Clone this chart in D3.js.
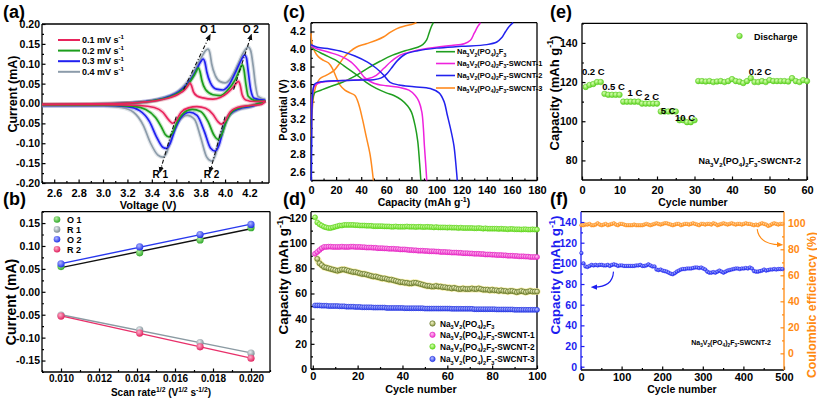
<!DOCTYPE html>
<html><head><meta charset="utf-8">
<script src="https://cdn.jsdelivr.net/npm/d3@7"></script>
<style>
body{margin:0;background:#fff;}
svg{display:block;}
</style></head><body><svg id="c" width="817" height="401"></svg>
<script>
// ---------------- DATA ----------------
// (a) cyclic voltammetry, [voltage, current] ; oxidation and reduction branches (both listed by increasing voltage)
const cvRates = ["0.1", "0.2", "0.3", "0.4"];
const cvOx01 = [[2.5,-0.002],[2.9,-0.001],[3.2,0.001],[3.35,0.004],[3.45,0.008],[3.55,0.015],[3.62,0.024],[3.67,0.035],[3.7,0.047],[3.71,0.052],[3.725,0.045],[3.74,0.03],[3.77,0.019],[3.82,0.014],[3.9,0.011],[3.96,0.015],[4.02,0.027],[4.07,0.042],[4.1,0.054],[4.11,0.056],[4.125,0.045],[4.14,0.022],[4.17,0.009],[4.24,0.005],[4.33,0.006]];
const cvRe01 = [[2.5,-0.003],[3.0,-0.003],[3.3,-0.005],[3.42,-0.01],[3.49,-0.022],[3.54,-0.042],[3.57,-0.05],[3.6,-0.042],[3.64,-0.022],[3.7,-0.011],[3.77,-0.008],[3.84,-0.012],[3.9,-0.027],[3.94,-0.045],[3.97,-0.052],[4.0,-0.044],[4.04,-0.022],[4.1,-0.01],[4.2,-0.005],[4.3,-0.002],[4.33,0.006]];
const cvOx02 = [[2.5,-0.003],[2.9,-0.002],[3.2,0.001],[3.35,0.004],[3.45,0.009],[3.55,0.017],[3.62,0.027],[3.68,0.042],[3.72,0.058],[3.75,0.073],[3.77,0.085],[3.78,0.09],[3.795,0.08],[3.81,0.058],[3.84,0.035],[3.9,0.022],[3.96,0.02],[4.02,0.033],[4.08,0.058],[4.12,0.085],[4.14,0.097],[4.155,0.085],[4.17,0.05],[4.19,0.018],[4.24,0.008],[4.33,0.006]];
const cvRe02 = [[2.5,-0.004],[3.0,-0.004],[3.25,-0.007],[3.35,-0.015],[3.43,-0.035],[3.48,-0.06],[3.51,-0.078],[3.54,-0.084],[3.57,-0.074],[3.61,-0.045],[3.66,-0.024],[3.73,-0.015],[3.8,-0.02],[3.86,-0.045],[3.91,-0.08],[3.94,-0.09],[3.97,-0.08],[4.01,-0.045],[4.06,-0.02],[4.13,-0.01],[4.22,-0.005],[4.33,0.006]];
const cvOx03 = [[2.5,-0.004],[2.9,-0.003],[3.2,0.001],[3.35,0.005],[3.45,0.01],[3.55,0.019],[3.62,0.03],[3.68,0.046],[3.73,0.066],[3.77,0.088],[3.8,0.105],[3.82,0.112],[3.835,0.104],[3.85,0.08],[3.88,0.052],[3.93,0.036],[3.98,0.034],[4.03,0.046],[4.08,0.075],[4.13,0.108],[4.16,0.122],[4.175,0.115],[4.19,0.08],[4.21,0.035],[4.24,0.013],[4.33,0.008]];
const cvRe03 = [[2.5,-0.005],[3.0,-0.005],[3.2,-0.008],[3.3,-0.018],[3.38,-0.045],[3.44,-0.085],[3.49,-0.11],[3.52,-0.113],[3.55,-0.1],[3.59,-0.065],[3.64,-0.035],[3.71,-0.022],[3.77,-0.03],[3.83,-0.07],[3.88,-0.112],[3.92,-0.12],[3.95,-0.105],[3.99,-0.06],[4.04,-0.027],[4.12,-0.013],[4.22,-0.007],[4.33,0.007]];
const cvOx04 = [[2.5,-0.005],[2.9,-0.004],[3.2,0.001],[3.35,0.005],[3.45,0.011],[3.55,0.02],[3.62,0.032],[3.68,0.05],[3.73,0.072],[3.77,0.095],[3.81,0.118],[3.84,0.133],[3.86,0.137],[3.875,0.128],[3.89,0.1],[3.92,0.07],[3.96,0.055],[4.0,0.052],[4.05,0.065],[4.1,0.095],[4.15,0.128],[4.19,0.142],[4.21,0.133],[4.23,0.095],[4.25,0.045],[4.27,0.018],[4.33,0.01]];
const cvRe04 = [[2.5,-0.006],[3.0,-0.006],[3.15,-0.01],[3.25,-0.022],[3.33,-0.055],[3.39,-0.1],[3.45,-0.13],[3.49,-0.135],[3.52,-0.125],[3.56,-0.085],[3.62,-0.045],[3.69,-0.03],[3.75,-0.04],[3.8,-0.085],[3.85,-0.135],[3.89,-0.145],[3.92,-0.13],[3.96,-0.08],[4.02,-0.035],[4.1,-0.017],[4.2,-0.009],[4.33,0.008]];
// peak guide lines [[V,I] start, [V,I] end] and labels
const peakNames = ["O 1", "O 2", "R 1", "R 2"];
const peakGuides = [[[3.66,0.035],[3.87,0.168]], [[4.07,0.035],[4.21,0.168]], [[3.6,-0.033],[3.47,-0.168]], [[4.0,-0.033],[3.88,-0.168]]];
const peakLabelPos = [[3.86,0.177], [4.21,0.177], [3.47,-0.188], [3.89,-0.188]];

// (b) peak current vs sqrt(scan rate)
const bRate = [0.01, 0.01414, 0.01732, 0.02];
const bO1 = [0.055, 0.085, 0.113, 0.14];
const bR1 = [-0.051, -0.083, -0.111, -0.134];
const bO2 = [0.061, 0.098, 0.125, 0.147];
const bR2 = [-0.053, -0.09, -0.12, -0.145];

// (c) charge/discharge profiles [capacity, potential]
const cNames = ["", "-SWCNT-1", "-SWCNT-2", "-SWCNT-3"];
const cCh0 = [[0.3,3.2],[1,3.4],[3,3.5],[8,3.53],[15,3.57],[25,3.62],[35,3.69],[45,3.78],[55,3.86],[65,3.93],[75,3.98],[85,4.02],[89,4.05],[92,4.1],[94,4.18],[96,4.26],[97.5,4.3]];
const cDis0 = [[0,4.03],[2,4.0],[10,3.94],[20,3.87],[26,3.81],[35,3.72],[44,3.62],[52,3.55],[60,3.5],[66,3.47],[72,3.42],[77,3.35],[80,3.28],[83,3.12],[85,2.95],[86.5,2.7],[87.5,2.5]];
const cCh1 = [[0.3,3.2],[1,3.45],[3,3.58],[8,3.62],[20,3.635],[35,3.645],[45,3.66],[52,3.7],[58,3.78],[64,3.86],[71,3.93],[80,3.97],[90,4.0],[100,4.02],[112,4.04],[122,4.06],[127,4.1],[130,4.18],[133,4.26],[135,4.3]];
const cDis1 = [[0,4.03],[5,4.0],[15,3.96],[25,3.91],[32,3.85],[38,3.76],[43,3.67],[50,3.61],[60,3.58],[71,3.56],[78,3.53],[83,3.47],[86,3.4],[88.3,3.28],[89.5,3.1],[90.3,2.9],[91.3,2.7],[92.2,2.5]];
const cCh2 = [[0.3,2.5],[0.6,3.0],[1,3.4],[3,3.6],[10,3.63],[25,3.64],[40,3.645],[50,3.65],[56,3.67],[60,3.71],[64,3.78],[69,3.87],[75,3.94],[85,3.98],[100,4.01],[120,4.03],[140,4.05],[148,4.08],[152,4.13],[155,4.2],[158,4.26],[161,4.3]];
const cDis2 = [[0,4.05],[5,4.02],[15,4.0],[25,3.97],[35,3.92],[45,3.85],[52,3.78],[58,3.7],[63,3.62],[70,3.59],[82,3.57],[95,3.55],[102,3.5],[106,3.4],[108.5,3.25],[111,3.1],[113.8,2.9],[115.3,2.7],[116.5,2.5]];
const cCh3 = [[0.3,3.0],[1,3.3],[2,3.45],[4,3.58],[7,3.66],[12,3.7],[18,3.75],[22,3.82],[26,3.9],[31,3.97],[36,4.02],[44,4.06],[52,4.1],[58,4.14],[63,4.19],[68,4.23],[74,4.26],[80,4.28],[84,4.3]];
const cDis3 = [[0,4.18],[1,4.05],[3,3.97],[6,3.91],[10,3.87],[14,3.84],[17,3.78],[20,3.68],[23,3.59],[27,3.53],[31,3.5],[35,3.47],[38,3.37],[41,3.2],[44,3.0],[47,2.8],[49.7,2.5]];

// (d) cycling at fixed rate, cycles 1..100 (first pristine point not shown)
const dPristine = [null,87.5,84,82.5,81,80.5,80,79.5,79,78.5, 78,78.5,79,79,78.5,78,77.5,77,77,76.5, 76,75.5,75.5,75,74.5,74,73.5,73.5,73,72.5, 72,72,71.5,71,71,70.5,70,69.5,69,69, 68.5,68.5,68,68,68.5,68.5,68,67.5,67,66.5, 66,66,65.5,65.5,66,65.5,65.5,65,65,64.5, 64.5,64,64.5,64,63.5,63.5,64,63.5,63.5,63.5, 64,63.5,63.5,64,63.5,63,63,63,62.5,63, 62.5,62.5,62,62.5,62,62,61.5,62,62,61.5, 61,61.5,62,61.5,61,61.5,62,61.5,61.5,61.5];
const dS1 = [91.5,93,94.5,96,97,97,97.2,97.2,97,97, 97,97,97.2,97,97,97,97.2,97.2,97,97, 97,96.8,96.8,96.5,96.5,96.5,96.3,96.3,96,96, 96,95.8,95.8,95.5,95.5,95.5,95.3,95.3,95,95, 95,94.8,94.5,94.5,94.3,94.3,94,94,94,93.8, 93.8,93.5,93.5,93.5,93.3,93.3,93,93,93,92.8, 92.8,92.5,92.5,92.5,92.3,92.3,92,92,92,91.8, 91.8,91.5,91.5,91.5,91.3,91.3,91,91,91,90.8, 90.8,90.5,90.5,90.5,90.3,90.3,90,90,90,89.8, 89.8,89.5,89.5,89.5,89.3,89.3,89,89,89,89];
const dS2 = [120.5,116.5,115,114,113,112.5,112,112,112.5,113, 113.5,114,114,114.5,114.5,114.5,114.5,114.5,114.3,114.3, 114,114,114,113.8,113.8,113.8,113.5,113.5,113.5,113.5, 113.5,113.3,113.3,113.3,113,113,113.3,113,113,113, 113,113.3,113,113,113,112.8,113,113,112.8,112.8, 113,112.8,112.8,112.5,112.8,112.5,112.5,112.5,112.5,112.3, 112.5,112.3,112.3,112.3,112,112.3,112,112,112,112, 112,111.8,111.8,112,111.8,111.5,111.8,111.5,111.5,111.5, 111.5,111.5,111.3,111.5,111.3,111.3,111,111.3,111.3,111, 111,111,110.8,111,111,110.8,110.8,111,110.8,110.8];
const dS3 = [50.5,50.5,50.5,50.3,50.3,50.3,50,50,50,50, 50,49.8,49.8,49.8,49.5,49.5,49.5,49.5,49.3,49.3, 49.3,49,49,49,49,49,48.8,48.8,48.8,48.8, 48.8,48.8,48.5,48.5,48.5,48.5,48.5,48.5,48.5,48.5, 48.3,48.3,48.3,48.3,48.3,48.3,48.3,48.3,48.3,48, 48,48,48,48,48,48,48,48,48,48, 48,47.8,47.8,47.8,47.8,47.8,47.8,47.8,47.8,47.8, 47.8,47.5,47.5,47.5,47.5,47.5,47.5,47.5,47.5,47.5, 47.5,47.3,47.3,47.3,47.3,47.3,47.3,47.3,47.3,47, 47,47,47,47,47,47,47,47,47,47];

// (e) rate capability, cycles 1..60
const eCap = [117.5,118.5,119,120,120, 114,113.5,113.5,113.5,113.5, 110,110,110,110,110, 109,109,109,109,109, 105,105,105,105,105, 100.5,100.5,99.5,99.5,100.5, 120.5,120.5,120.3,120.5,120,120.3,120.5,120,120.5,121.5, 120.5,120.2,119.5,120.5,122,120,120,120.5,120,121, 120.5,120.5,120.5,120.5,120.3,122,120.5,120,121,120.5];
const eRates = ["0.2 C","0.5 C","1 C","2 C","5 C","10 C","0.2 C"];
const eRateAt = [[3,123.4],[8.4,116.1],[14.1,112.7],[18.6,110.7],[23,103.9],[27.5,100.2],[47.5,123.8]];

// (f) long cycling, one point every 5 cycles
const fCap = [110,100,97,96.5,97.5,98.5,98,98.5,98,98.5, 98.5,98,98,98.5,97.5,98.5,99,98.5,97.5,98, 98,97.5,97.5,97.5,97.5,97.5,97.5,98,98,98.5, 97.5,97.5,98,99,98,97,97,94,93.5,94, 93,92.5,92,91,90,89.5,90.5,92,93,94, 94.5,94.5,95,95,95,95.5,96,96,95.5,96, 95,94,92,91,91,91.5,91,92,93,92, 91,92,93,93.5,94,94.5,95,95,94.5,95, 95,95.5,95,96,95,92.5,92,92,92.5,93, 94,93,93.5,94,94,94.5,94,94.5,94.5,94.5];
const fCE = [98.5,98.5,99,99,99.5,98.5,98.5,99,100,99, 98.5,99,99.5,98.5,99,99.5,100,99,98.5,99.5, 99.5,99,98.5,98.5,98.5,98.5,99,98.5,98.5,98.5, 98.5,99,99.5,99,98.5,99,99.5,100,99.5,99, 99.5,100,100,99.5,99,98.5,99,99.5,99.5,98.5, 99,99.5,99.5,99,99.5,100,99.5,99,98.5,99.5, 99.5,99,99.5,99.5,99,100,99.5,98.5,99,99.5, 100,99.5,99,99.5,100,99.5,99,99.5,99.5,99, 99.5,100,99.5,99.5,99,98.5,99,98.5,99.5,100, 99.5,99,98,98.5,99.5,100,99.5,99,99.5,99.5];

// ---------------- DRAWING ----------------
const FONT = '"Liberation Sans", Arial, Helvetica, sans-serif';
const svg = d3.select("#c").attr("font-family", FONT).attr("font-weight", "bold");
svg.append("rect").attr("width", 817).attr("height", 401).attr("fill", "#fff");
const defs = svg.append("defs");

function grad(id, light, dark) {
  const g = defs.append("radialGradient").attr("id", id).attr("cx", "40%").attr("cy", "35%").attr("r", "65%");
  g.append("stop").attr("offset", "0%").attr("stop-color", light);
  g.append("stop").attr("offset", "100%").attr("stop-color", dark);
  return `url(#${id})`;
}
function arrowMarker(id, color) {
  defs.append("marker").attr("id", id).attr("viewBox", "0 0 10 10").attr("refX", 5).attr("refY", 5)
    .attr("markerWidth", 6).attr("markerHeight", 6).attr("orient", "auto")
    .append("path").attr("d", "M0,1 L10,5 L0,9 Z").attr("fill", color);
  return `url(#${id})`;
}

// rich text with sub/superscripts; parts = [[text, kind]]
function rich(sel, parts, size) {
  let off = 0;
  parts.forEach(([s, k]) => {
    const t = k === "sub" ? size * 0.32 : k === "sup" ? -size * 0.4 : 0;
    sel.append("tspan").attr("dy", (t - off).toFixed(2)).attr("font-size", k === "n" ? size : size * 0.68).text(s);
    off = t;
  });
  return sel;
}
const NVPF = [["Na","n"],["3","sub"],["V","n"],["2","sub"],["(PO","n"],["4","sub"],[")","n"],["2","sub"],["F","n"],["3","sub"]];

function styleAxis(g, color, fs) {
  g.select(".domain").remove();
  g.attr("font-family", FONT).attr("font-size", fs).attr("font-weight", "bold");
  g.selectAll("line").attr("stroke", color).attr("stroke-width", 1.2);
  g.selectAll("text").attr("fill", color);
}
function axes(x, y, o) {
  const g = svg.append("g");
  const [xa, xb] = x.range(), [yb, ya] = y.range();
  const fs = o.fs || 11;
  const bx = g.append("g").attr("transform", `translate(0,${yb})`);
  bx.call(d3.axisBottom(x).tickValues(o.xt).tickFormat(o.xf).tickSize(-3.5).tickPadding(o.bp).tickSizeOuter(0));
  styleAxis(bx, "#000", o.xfs || fs);
  const bxm = g.append("g").attr("transform", `translate(0,${yb})`);
  bxm.call(d3.axisBottom(x).tickValues(o.xm).tickFormat("").tickSize(-2).tickSizeOuter(0));
  styleAxis(bxm, "#000", fs);
  const lc = o.lc || "#000";
  const ly = g.append("g").attr("transform", `translate(${xa},0)`);
  ly.call(d3.axisLeft(y).tickValues(o.yt).tickFormat(o.yf).tickSize(-3.5).tickPadding(o.lp).tickSizeOuter(0));
  styleAxis(ly, lc, o.yfs || fs);
  const lym = g.append("g").attr("transform", `translate(${xa},0)`);
  lym.call(d3.axisLeft(y).tickValues(o.ym).tickFormat("").tickSize(-2).tickSizeOuter(0));
  styleAxis(lym, lc, fs);
  const rc = o.rc || "#000";
  g.append("line").attr("x1", xa).attr("x2", xb).attr("y1", ya).attr("y2", ya).attr("stroke", "#000").attr("stroke-width", 1.3);
  g.append("line").attr("x1", xa).attr("x2", xb).attr("y1", yb).attr("y2", yb).attr("stroke", "#000").attr("stroke-width", 1.3);
  g.append("line").attr("x1", xa).attr("x2", xa).attr("y1", ya).attr("y2", yb).attr("stroke", lc).attr("stroke-width", 1.3);
  g.append("line").attr("x1", xb).attr("x2", xb).attr("y1", ya).attr("y2", yb).attr("stroke", rc).attr("stroke-width", 1.3);
  return g;
}
function ytitle(x, ycen, parts, size, color, rot) {
  const t = svg.append("text").attr("transform", `translate(${x},${ycen}) rotate(${rot || -90})`).attr("text-anchor", "middle")
    .attr("font-size", size).attr("fill", color || "#000");
  rich(t, parts, size);
}
function xtitle(xcen, y, parts, size) {
  const t = svg.append("text").attr("x", xcen).attr("y", y).attr("text-anchor", "middle").attr("font-size", size);
  rich(t, parts, size);
}
function panelLetter(x, y, s) {
  svg.append("text").attr("x", x).attr("y", y).attr("font-size", 18).text(s);
}
const f2 = v => v.toFixed(2), f1 = v => v.toFixed(1), f3 = v => v.toFixed(3), f0 = v => String(v);
const CAPT = [["Capacity (mAh g", "n"], ["-1", "sup"], [")", "n"]];

// ======== (a) ========
const xA = d3.scaleLinear([2.5, 4.36], [42, 269]);
const yA = d3.scaleLinear([-0.2, 0.2], [183, 24]);
axes(xA, yA, { xt: [2.6,2.8,3.0,3.2,3.4,3.6,3.8,4.0,4.2], xm: [2.5,2.7,2.9,3.1,3.3,3.5,3.7,3.9,4.1,4.3], xf: f1,
  yt: [-0.2,-0.15,-0.1,-0.05,0,0.05,0.1,0.15,0.2], ym: [-0.175,-0.125,-0.075,-0.025,0.025,0.075,0.125,0.175], yf: f2,
  bp: 6, lp: 2, yfs: 10.5 });
const cvColors = ["#e8245c", "#1c9e1c", "#2020f0", "#8c9caa"];
const cvBranches = [[cvOx01, cvRe01], [cvOx02, cvRe02], [cvOx03, cvRe03], [cvOx04, cvRe04]];
const lineA = d3.line().x(d => xA(d[0])).y(d => yA(d[1])).curve(d3.curveMonotoneX);
[3, 2, 1, 0].forEach(i => {
  cvBranches[i].forEach(br => {
    svg.append("path").attr("d", lineA(br)).attr("fill", "none").attr("stroke", cvColors[i]).attr("stroke-opacity", 0.25).attr("stroke-width", 4);
  });
});
[3, 2, 1, 0].forEach(i => {
  cvBranches[i].forEach(br => {
    svg.append("path").attr("d", lineA(br)).attr("fill", "none").attr("stroke", cvColors[i]).attr("stroke-width", 1.7);
  });
});
const arrK = arrowMarker("arrK", "#111");
peakGuides.forEach((pg, i) => {
  svg.append("line").attr("x1", xA(pg[0][0])).attr("y1", yA(pg[0][1])).attr("x2", xA(pg[1][0])).attr("y2", yA(pg[1][1]))
    .attr("stroke", "#111").attr("stroke-width", 1.1).attr("stroke-dasharray", "4,2,1,2").attr("marker-end", arrK);
  svg.append("text").attr("x", xA(peakLabelPos[i][0])).attr("y", yA(peakLabelPos[i][1])).attr("text-anchor", "middle")
    .attr("font-size", 10).text(peakNames[i]);
});
cvRates.forEach((r, i) => {
  const yy = 40 + i * 10.6;
  svg.append("line").attr("x1", 58).attr("x2", 80).attr("y1", yy).attr("y2", yy).attr("stroke", cvColors[i]).attr("stroke-width", 2);
  const t = svg.append("text").attr("x", 82).attr("y", yy + 3).attr("font-size", 9);
  rich(t, [[r + " mV s", "n"], ["-1", "sup"]], 9);
});
ytitle(16.5, 94, [["Current (mA)", "n"]], 12.5);
xtitle(148, 209, [["Voltage (V)", "n"]], 11);
panelLetter(3, 18, "(a)");

// ======== (b) ========
const xB = d3.scaleLinear([0.009, 0.021], [42, 270]);
const yB = d3.scaleLinear([-0.175, 0.175], [372, 211.6]);
axes(xB, yB, { xt: [0.010,0.012,0.014,0.016,0.018,0.020], xm: [0.009,0.011,0.013,0.015,0.017,0.019,0.021], xf: f3, xfs: 10,
  yt: [-0.15,-0.1,-0.05,0,0.05,0.1,0.15], ym: [-0.175,-0.125,-0.075,-0.025,0.025,0.075,0.125,0.175], yf: f2,
  bp: 2.5, lp: 2, yfs: 10.5 });
const bSeries = [
  { name: "O 1", vals: bO1, fill: grad("gO1", "#b8f0a0", "#2ea82a"), fit: "#111" },
  { name: "R 1", vals: bR1, fill: grad("gR1", "#e8eef0", "#7d8c94"), fit: "#8a9aa2" },
  { name: "O 2", vals: bO2, fill: grad("gO2", "#b0b8ff", "#2030e8"), fit: "#2838ee" },
  { name: "R 2", vals: bR2, fill: grad("gR2", "#ffb0cc", "#e0205c"), fit: "#e8306a" }];
bSeries.forEach(s => {
  const n = bRate.length, mx = d3.mean(bRate), my = d3.mean(s.vals);
  const slope = d3.sum(bRate, (x, i) => (x - mx) * (s.vals[i] - my)) / d3.sum(bRate, x => (x - mx) ** 2);
  const ic = my - slope * mx;
  svg.append("line").attr("x1", xB(bRate[0])).attr("y1", yB(ic + slope * bRate[0]))
    .attr("x2", xB(bRate[n - 1])).attr("y2", yB(ic + slope * bRate[n - 1])).attr("stroke", s.fit).attr("stroke-width", 1.4);
});
bSeries.forEach(s => {
  svg.append("g").selectAll("circle").data(s.vals).join("circle")
    .attr("cx", (d, i) => xB(bRate[i])).attr("cy", d => yB(d)).attr("r", 3.6).attr("fill", s.fill);
});
bSeries.forEach((s, i) => {
  const yy = 219.5 + i * 9.9;
  svg.append("circle").attr("cx", 57).attr("cy", yy).attr("r", 3.3).attr("fill", s.fill);
  svg.append("text").attr("x", 67).attr("y", yy + 3.3).attr("font-size", 9).text(s.name);
});
ytitle(16, 302, [["Current (mA)", "n"]], 14);
xtitle(161, 396, [["Scan rate", "n"], ["1/2", "sup"], [" (V", "n"], ["1/2", "sup"], [" s", "n"], ["-1/2", "sup"], [")", "n"]], 10);
panelLetter(3, 205, "(b)");

// ======== (c) ========
const xC = d3.scaleLinear([0, 180], [311, 537]);
const yC = d3.scaleLinear([2.5, 4.3], [180.5, 22.7]);
axes(xC, yC, { xt: d3.range(0, 181, 20), xm: d3.range(10, 180, 20), xf: f0,
  yt: [2.6,2.8,3.0,3.2,3.4,3.6,3.8,4.0,4.2], ym: [2.5,2.7,2.9,3.1,3.3,3.5,3.7,3.9,4.1,4.3], yf: f1,
  bp: 6, lp: 5.5 });
const cColors = ["#1f9e1f", "#ee22dd", "#2222ee", "#ff8a1e"];
const cCurves = [[cCh0, cDis0], [cCh1, cDis1], [cCh2, cDis2], [cCh3, cDis3]];
const lineC = d3.line().x(d => xC(d[0])).y(d => yC(d[1])).curve(d3.curveCatmullRom.alpha(0.5));
[3, 0, 1, 2].forEach(i => cCurves[i].forEach(cv => {
  svg.append("path").attr("d", lineC(cv)).attr("fill", "none").attr("stroke", cColors[i]).attr("stroke-width", 1.5);
}));
cNames.forEach((nm, i) => {
  const yy = [51.7, 63.5, 75.5, 88][i];
  svg.append("line").attr("x1", 436).attr("x2", 455).attr("y1", yy).attr("y2", yy).attr("stroke", cColors[i]).attr("stroke-width", 1.6);
  const t = svg.append("text").attr("x", 457).attr("y", yy + 2.5).attr("font-size", 7.5);
  rich(t, NVPF.concat(nm ? [[nm, "n"]] : []), 7.5);
});
ytitle(287, 110, [["Potential (V)", "n"]], 10.5);
xtitle(424, 206, CAPT, 10.5);
panelLetter(283, 18, "(c)");

// ======== (d) ========
const xD = d3.scaleLinear([-0.8, 100], [311, 537]);
const yD = d3.scaleLinear([0, 125], [369, 211.7]);
axes(xD, yD, { xt: d3.range(0, 101, 20), xm: d3.range(10, 100, 20), xf: f0,
  yt: d3.range(0, 121, 20), ym: d3.range(10, 121, 20), yf: f0, bp: 3.5, lp: 4, yfs: 10.5 });
const dSeries = [
  { vals: dPristine, fill: grad("gDp", "#f4f6c8", "#8f9a48"), stroke: "#566a1e", glow: true },
  { vals: dS1, fill: grad("gD1", "#ffc0f2", "#ee33cc"), stroke: "#e020c0" },
  { vals: dS2, fill: grad("gD2", "#d6ffb0", "#66dd22"), stroke: "#5ed21a" },
  { vals: dS3, fill: grad("gD3", "#b8c0ff", "#3040ee"), stroke: "#2233dd" }];
const lineD = d3.line().defined(d => d[1] != null).x(d => xD(d[0])).y(d => yD(d[1]));
dSeries.forEach(s => {
  const pts = s.vals.map((v, i) => [i + 1, v]);
  if (s.glow) svg.append("path").attr("d", lineD(pts)).attr("fill", "none").attr("stroke", "#f6eda0").attr("stroke-width", 7).attr("stroke-linecap", "round").attr("opacity", 0.85);
  svg.append("g").selectAll("circle").data(pts.filter(p => p[1] != null)).join("circle")
    .attr("cx", d => xD(d[0])).attr("cy", d => yD(d[1])).attr("r", 2.5).attr("fill", s.fill).attr("stroke", s.stroke).attr("stroke-width", 0.6);
});
cNames.forEach((nm, i) => {
  const yy = [323.5, 334.8, 346.5, 359][i];
  svg.append("circle").attr("cx", 432.5).attr("cy", yy).attr("r", 2.7).attr("fill", dSeries[i].fill).attr("stroke", dSeries[i].stroke).attr("stroke-width", 0.6);
  const t = svg.append("text").attr("x", 440).attr("y", yy + 3).attr("font-size", 8.3);
  rich(t, NVPF.concat(nm ? [[nm, "n"]] : []), 8.3);
});
ytitle(288, 275, CAPT, 13.5);
xtitle(421, 393, [["Cycle number", "n"]], 10.8);
panelLetter(283, 205, "(d)");

// ======== (e) ========
const xE = d3.scaleLinear([0, 60], [582, 807]);
const yE = d3.scaleLinear([70, 150], [180, 23.3]);
axes(xE, yE, { xt: d3.range(0, 61, 10), xm: d3.range(5, 60, 10), xf: f0,
  yt: [80, 100, 120, 140], ym: [90, 110, 130, 150], yf: f0, bp: 6.5, lp: 4.5, yfs: 10.5 });
const eFill = grad("gE", "#d6ffb0", "#5fd422");
svg.append("g").selectAll("circle").data(eCap).join("circle")
  .attr("cx", (d, i) => xE(i + 1)).attr("cy", d => yE(d)).attr("r", 2.8).attr("fill", eFill).attr("stroke", "#55c81c").attr("stroke-width", 0.5);
eRates.forEach((r, i) => {
  svg.append("text").attr("x", xE(eRateAt[i][0])).attr("y", yE(eRateAt[i][1])).attr("text-anchor", "middle").attr("font-size", 9.5).text(r);
});
svg.append("circle").attr("cx", 739.5).attr("cy", 36).attr("r", 2.8).attr("fill", eFill).attr("stroke", "#55c81c").attr("stroke-width", 0.5);
svg.append("text").attr("x", 754).attr("y", 39.5).attr("font-size", 9).text("Discharge");
rich(svg.append("text").attr("x", 801).attr("y", 164).attr("text-anchor", "end").attr("font-size", 9), NVPF.concat([["-SWCNT-2", "n"]]), 9);
ytitle(558.5, 93, CAPT, 13);
xtitle(693, 206, [["Cycle number", "n"]], 10.5);
panelLetter(550, 18, "(e)");

// ======== (f) ========
const BLUE = "#1c1cf0", ORANGE = "#ff8a12";
const xF = d3.scaleLinear([0, 500], [581, 784]);
const yFL = d3.scaleLinear([-3.2, 150], [370, 211.7]);
const yFR = d3.scaleLinear([-12.8, 108.9], [370, 211.7]);
axes(xF, yFL, { xt: d3.range(0, 501, 100), xm: d3.range(50, 500, 100), xf: f0,
  yt: d3.range(0, 141, 20), ym: d3.range(10, 150, 20), yf: f0, lc: BLUE, rc: ORANGE, bp: 3.5, lp: 4, yfs: 10.5 });
const ry = svg.append("g").attr("transform", "translate(784,0)");
ry.call(d3.axisRight(yFR).tickValues(d3.range(0, 101, 20)).tickFormat(f0).tickSize(-3.5).tickPadding(4).tickSizeOuter(0));
styleAxis(ry, ORANGE, 10.5);
const rym = svg.append("g").attr("transform", "translate(784,0)");
rym.call(d3.axisRight(yFR).tickValues(d3.range(10, 101, 20)).tickFormat("").tickSize(-2).tickSizeOuter(0));
styleAxis(rym, ORANGE, 10.5);
const fFillB = grad("gFB", "#aab4ff", "#2030ee"), fFillO = grad("gFO", "#ffd8a8", "#ff8a12");
svg.append("g").selectAll("circle").data(fCE).join("circle")
  .attr("cx", (d, i) => xF(i * 5 + 1)).attr("cy", d => yFR(d)).attr("r", 1.8).attr("fill", fFillO).attr("stroke", ORANGE).attr("stroke-width", 0.5);
svg.append("g").selectAll("circle").data(fCap).join("circle")
  .attr("cx", (d, i) => xF(i * 5 + 1)).attr("cy", d => yFL(d)).attr("r", 1.8).attr("fill", fFillB).attr("stroke", BLUE).attr("stroke-width", 0.5);
const arrB = arrowMarker("arrB", BLUE), arrO = arrowMarker("arrO", ORANGE);
svg.append("path").attr("d", `M${xF(80)},${yFL(92)} Q${xF(78)},${yFL(77)} ${xF(32)},${yFL(77)}`)
  .attr("fill", "none").attr("stroke", BLUE).attr("stroke-width", 1.1).attr("marker-end", arrB);
svg.append("path").attr("d", `M${xF(434)},${yFR(95.5)} Q${xF(438)},${yFR(84)} ${xF(490)},${yFR(83.5)}`)
  .attr("fill", "none").attr("stroke", ORANGE).attr("stroke-width", 1.1).attr("marker-end", arrO);
rich(svg.append("text").attr("x", 771).attr("y", 345).attr("text-anchor", "end").attr("font-size", 7), NVPF.concat([["-SWCNT-2", "n"]]), 7);
ytitle(560, 275, CAPT, 13.5, BLUE);
ytitle(815.5, 305, [["Coulombic efficiency (%)", "n"]], 12.3, ORANGE);
xtitle(682, 393, [["Cycle number", "n"]], 10.5);
panelLetter(550, 205, "(f)");
</script></body></html>
